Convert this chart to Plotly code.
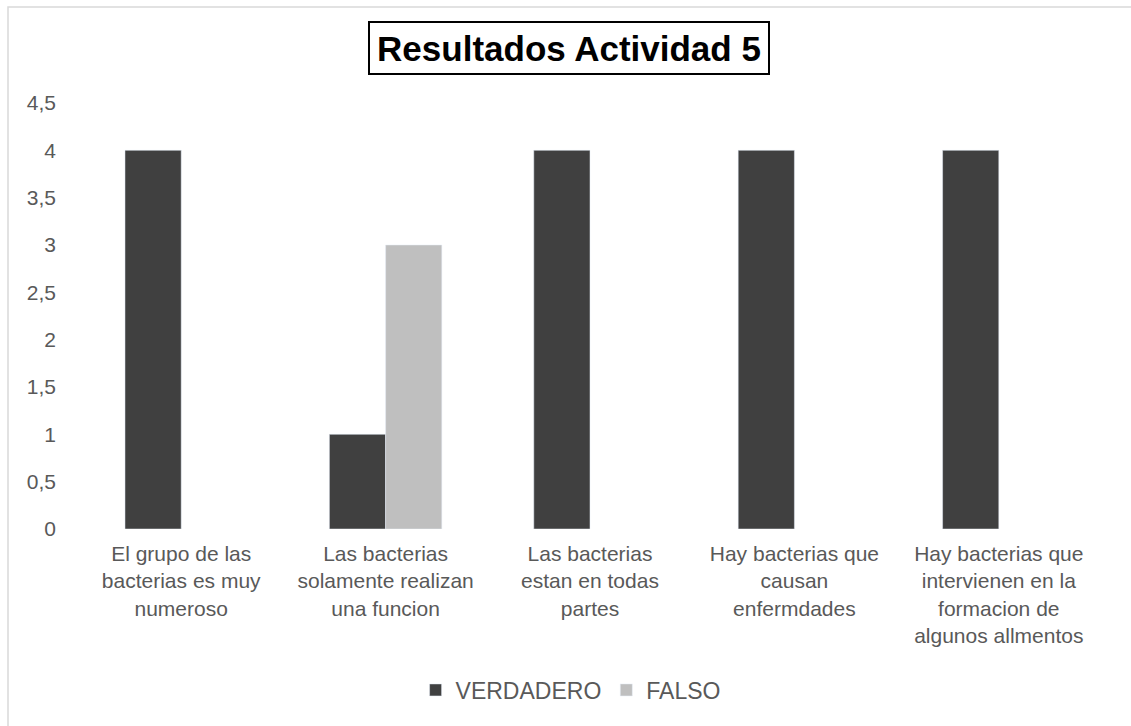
import plotly.graph_objects as go

categories = [
    "El grupo de las<br>bacterias es muy<br>numeroso",
    "Las bacterias<br>solamente realizan<br>una funcion",
    "Las bacterias<br>estan en todas<br>partes",
    "Hay bacterias que<br>causan<br>enfermdades",
    "Hay bacterias que<br>intervienen en la<br>formacion de<br>algunos allmentos",
]
verdadero = [4, 1, 4, 4, 4]
falso = [None, 3, None, None, None]
y_ticks = [0, 0.5, 1, 1.5, 2, 2.5, 3, 3.5, 4, 4.5]
y_tick_labels = ["0", "0,5", "1", "1,5", "2", "2,5", "3", "3,5", "4", "4,5"]

W, H = 1131, 726
L, R, T, B = 79, 30, 103, 197
pw, ph = W - L - R, H - T - B
FONT = "Liberation Sans, Arial, sans-serif"

fig = go.Figure()
fig.add_trace(go.Bar(name="VERDADERO", x=categories, y=verdadero, marker_color="#404040"))
fig.add_trace(go.Bar(name="FALSO", x=categories, y=falso, marker_color="#BFBFBF"))

def px_x(p):
    return (p - L) / pw

def px_y(p):
    return (H - B - p) / ph

fig.update_layout(
    width=W, height=H,
    margin=dict(l=L, r=R, t=T, b=B),
    paper_bgcolor="white", plot_bgcolor="white",
    font=dict(family=FONT, size=20, color="#595959"),
    barmode="group", bargap=0.45, bargroupgap=0,
    showlegend=True,
    legend=dict(orientation="h", x=0.481, xanchor="center", y=px_y(690), yanchor="middle",
                font=dict(size=23, color="#595959"), itemwidth=30, traceorder="normal"),
    xaxis=dict(showgrid=False, showline=False, ticks="", ticklabelstandoff=10,
               tickfont=dict(size=21, color="#595959")),
    yaxis=dict(range=[0, 4.5], tickvals=y_ticks, ticktext=y_tick_labels, showgrid=False,
               showline=False, zeroline=False, ticks="", ticklabelstandoff=22,
               tickfont=dict(size=21, color="#595959")),
    annotations=[dict(
        text="<b>Resultados Actividad 5</b>", xref="paper", yref="paper",
        x=px_x(569), y=px_y(48), xanchor="center", yanchor="middle", showarrow=False,
        font=dict(size=35, color="black", family=FONT),
        width=394, height=46, align="center",
        bordercolor="black", borderwidth=2, borderpad=2, bgcolor="white",
    )],
    shapes=[dict(type="rect", xref="paper", yref="paper",
                 x0=px_x(8), x1=px_x(1140), y0=px_y(740), y1=px_y(7),
                 line=dict(color="#D9D9D9", width=1.5), layer="below")],
)

fig.write_html("out.html")
